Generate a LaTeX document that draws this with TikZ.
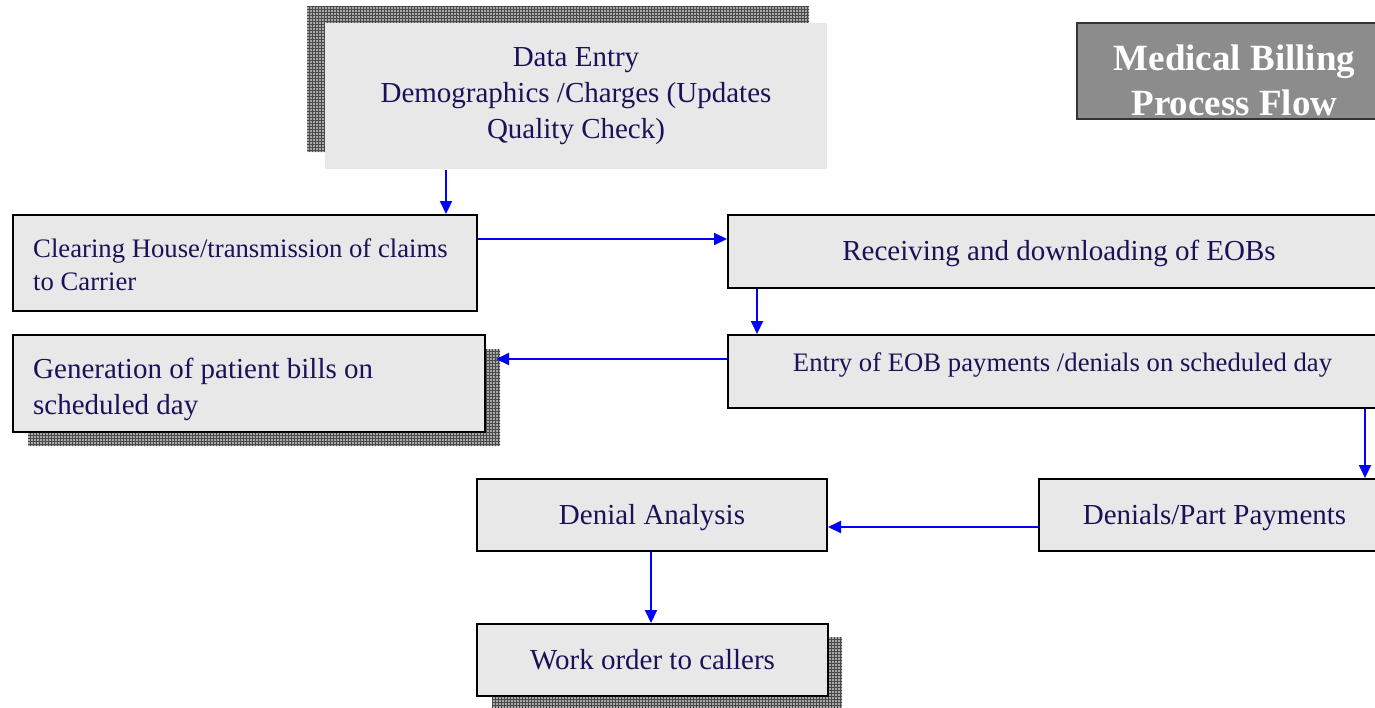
\documentclass[tikz,border=0pt]{standalone}
\usepackage{fontspec}
\setmainfont{Liberation Serif}
\usetikzlibrary{arrows.meta,calc}
\definecolor{boxfill}{HTML}{E8E8E8}
\definecolor{txtcol}{RGB}{30,16,88}
\definecolor{titlefill}{HTML}{8C8C8C}
\definecolor{shadowbg}{HTML}{A8A8A8}
\definecolor{shadowln}{HTML}{4A4A4A}
\definecolor{arrowblue}{RGB}{0,0,255}
\begin{document}
\begin{tikzpicture}[x=1pt,y=-1pt,
  box/.style={draw=black, line width=2pt, fill=boxfill, text=txtcol, anchor=north west, inner sep=0pt, font=\fontsize{29}{36}\selectfont, align=center},
  txt/.style={text=txtcol, inner sep=0pt, font=\fontsize{29}{36}\selectfont},
  smallfont/.style={font=\fontsize{26.7}{33}\selectfont},
  arr/.style={draw=arrowblue, line width=2pt, -{Triangle[length=13pt,width=12pt]}},
]
\useasboundingbox (0,0) rectangle (1375,707);
\clip (0,0) rectangle (1375,707);

% shadows (hatched grid)
\fill[shadowbg] (307,6) rectangle (809,152);
\fill[shadowbg] (28,349) rectangle (500,446);
\fill[shadowbg] (492,637) rectangle (842,709);
\begin{scope}
\clip (307,6) rectangle (809,152) (28,349) rectangle (500,446) (492,637) rectangle (842,709);
\draw[shadowln, line width=0.9pt, step=3pt] (0,0) grid (900,710);
\end{scope}

% Data entry
\node[box, draw=none, minimum width=502pt, minimum height=146pt] (de) at (324,22) {Data Entry\\Demographics /Charges (Updates\\Quality Check)};

% Title
\node[draw=black!80, line width=2pt, fill=titlefill, anchor=north west, minimum width=315pt, minimum height=96pt, inner sep=0pt] (title) at (1076,22) {};
\node[text=white, font=\bfseries\fontsize{37}{45}\selectfont, align=center] (titletext) at ($(title.center)+(0,9.5)$) {Medical Billing\\Process Flow};

% Clearing
\node[box, minimum width=464pt, minimum height=96pt] (clear) at (12,214) {};
\node[txt, smallfont, anchor=west, align=left] (cleartext) at ($(clear.west)+(21,2)$) {Clearing House/transmission of claims\\to Carrier};

% Receiving
\node[box, minimum width=662pt, minimum height=73pt] (recv) at (727,214) {};
\node[txt] (recvtext) at ($(recv.center)+(0,1.5)$) {Receiving and downloading of EOBs};

% Entry
\node[box, minimum width=669pt, minimum height=73pt] (entry) at (727,334) {};
\node[txt, smallfont] (entrytext) at ($(entry.center)+(0,-7)$) {Entry of EOB payments /denials on scheduled day};

% Generation
\node[box, minimum width=472pt, minimum height=97pt] (gen) at (12,334) {};
\node[txt, anchor=west, align=left] (gentext) at ($(gen.west)+(21,6)$) {Generation of patient bills on\\scheduled day};

% Denials
\node[box, minimum width=351pt, minimum height=72pt] (den) at (1038,478) {};
\node[txt] (dentext) at ($(den.center)+(0,2.5)$) {Denials/Part Payments};

% Denial analysis
\node[box, minimum width=350pt, minimum height=72pt] (da) at (476,478) {};
\node[txt] (datext) at ($(da.center)+(0,2.5)$) {Denial Analysis};

% Work order
\node[box, minimum width=351pt, minimum height=72pt] (wo) at (476,623) {};
\node[txt] (wotext) at ($(wo.center)+(0,0)$) {Work order to callers};

% connectors
\coordinate (a1) at ($(de.south)+(-130,0)$);
\draw[arr] (a1) -- (a1 |- clear.north);

\coordinate (a2) at ($(clear.east)+(0,-24)$);
\draw[arr] (a2) -- (a2 -| recv.west);

\coordinate (a3) at ($(recv.south west)+(30,0)$);
\draw[arr] (a3) -- (a3 |- entry.north);

\coordinate (a4) at ($(entry.west)+(0,-12.5)$);
\coordinate (a4e) at ($(a4 -| gen.east)+(10,0)$);
\draw[arr] (a4) -- (a4e);

\coordinate (a5) at ($(entry.south west)+(638,0)$);
\draw[arr] (a5) -- (a5 |- den.north);

\coordinate (a6) at ($(den.west)+(0,12)$);
\draw[arr] (a6) -- (a6 -| da.east);

\coordinate (a7) at ($(da.south)+(-1,0)$);
\draw[arr] (a7) -- (a7 |- wo.north);
\end{tikzpicture}
\end{document}
